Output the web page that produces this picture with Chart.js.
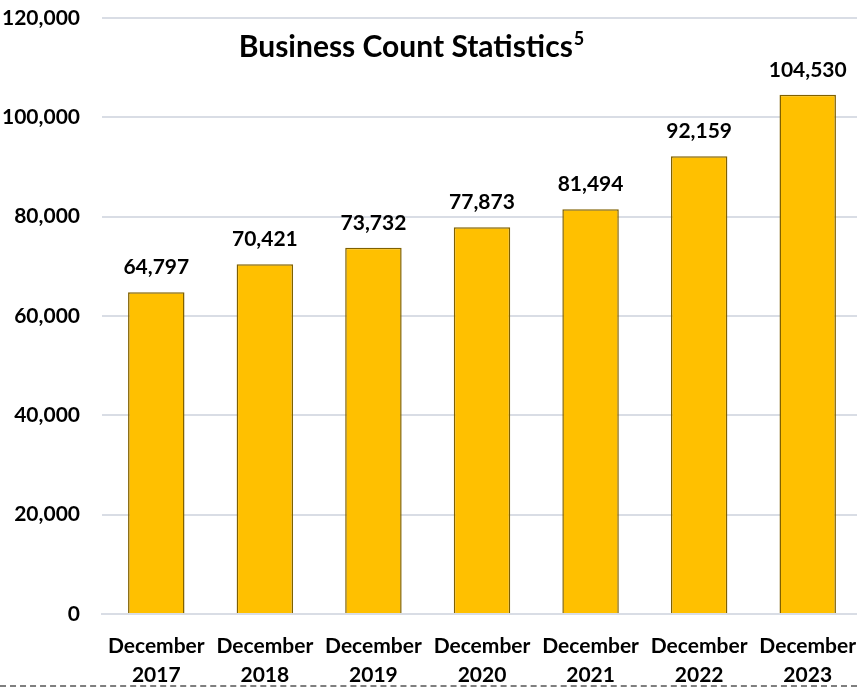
<!DOCTYPE html>
<html>
<head>
<meta charset="utf-8">
<script src="https://cdn.jsdelivr.net/npm/chart.js@4.4.1/dist/chart.umd.min.js"></script>
<style>
  html, body { margin: 0; padding: 0; background: #fff; overflow: hidden; }
  #wrap { position: relative; width: 857px; height: 687px; overflow: hidden; }
  #dash { position: absolute; left: 0; top: 685px; width: 857px; border-top: 2px dashed #7f7f7f; }
</style>
</head>
<body>
<div id="wrap">
  <canvas id="chart" width="862" height="687"></canvas>
  <div id="dash"></div>
</div>
<script>
const categories = [
  ["December", "2017"], ["December", "2018"], ["December", "2019"], ["December", "2020"],
  ["December", "2021"], ["December", "2022"], ["December", "2023"]
];
const businessCounts = [64797, 70421, 73732, 77873, 81494, 92159, 104530];
const yTicks = [0, 20000, 40000, 60000, 80000, 100000, 120000];

const FONT = "Lato, 'Noto Sans', sans-serif";

// value labels above each bar
const barLabels = {
  id: 'barLabels',
  afterDatasetsDraw(chart) {
    const ctx = chart.ctx;
    const meta = chart.getDatasetMeta(0);
    ctx.save();
    ctx.font = "bold 21px " + FONT;
    ctx.fillStyle = "#000";
    ctx.textAlign = "center";
    ctx.textBaseline = "middle";
    meta.data.forEach((bar, i) => {
      ctx.fillText(businessCounts[i].toLocaleString('en-US'), bar.x, bar.y - 25);
    });
    ctx.restore();
  }
};

// title drawn inside the plot area with a superscript
const innerTitle = {
  id: 'innerTitle',
  afterDraw(chart) {
    const ctx = chart.ctx;
    ctx.save();
    const main = "Business Count Statistics";
    ctx.font = "bold 30px " + FONT;
    const w1 = ctx.measureText(main).width;
    ctx.font = "bold 18px " + FONT;
    const w2 = ctx.measureText("5").width;
    const x0 = 411 - (w1 + w2) / 2;
    ctx.fillStyle = "#000";
    ctx.textBaseline = "alphabetic";
    ctx.textAlign = "left";
    ctx.font = "bold 30px " + FONT;
    ctx.fillText(main, x0, 57);
    ctx.font = "bold 18px " + FONT;
    ctx.fillText("5", x0 + w1 + 1, 45);
    ctx.restore();
  }
};

new Chart(document.getElementById('chart'), {
  type: 'bar',
  data: {
    labels: categories,
    datasets: [{
      data: businessCounts,
      backgroundColor: '#FFC000',
      borderColor: '#7F6000',
      borderWidth: 1.5,
      categoryPercentage: 1.0,
      barPercentage: 0.52
    }]
  },
  options: {
    responsive: false,
    animation: false,
    layout: { padding: { top: 18, right: 0, left: 0, bottom: 0 } },
    plugins: { legend: { display: false }, title: { display: false }, tooltip: { enabled: false } },
    scales: {
      x: {
        grid: { display: false, drawTicks: false },
        border: { display: true, color: '#d9dde5', width: 2 },
        ticks: { color: '#000', font: { family: FONT, size: 21, weight: 'bold', lineHeight: 1.42 }, padding: 17, maxRotation: 0, autoSkip: false },
        afterFit(scale) {
          scale.height = 73;
          scale.paddingLeft = 0;
          scale.paddingRight = 0;
        }
      },
      y: {
        min: 0,
        max: 120000,
        afterBuildTicks(scale) { scale.ticks = yTicks.map(v => ({ value: v })); },
        grid: { color: '#d9dde5', lineWidth: 2, drawTicks: false },
        border: { display: false },
        ticks: {
          color: '#000',
          font: { family: FONT, size: 21, weight: 'bold' },
          padding: 22,
          callback: v => v.toLocaleString('en-US')
        },
        afterFit(scale) {
          scale.width = 102;
          scale.paddingTop = 0;
          scale.paddingBottom = 0;
        }
      }
    }
  },
  plugins: [barLabels, innerTitle]
});
</script>
</body>
</html>
